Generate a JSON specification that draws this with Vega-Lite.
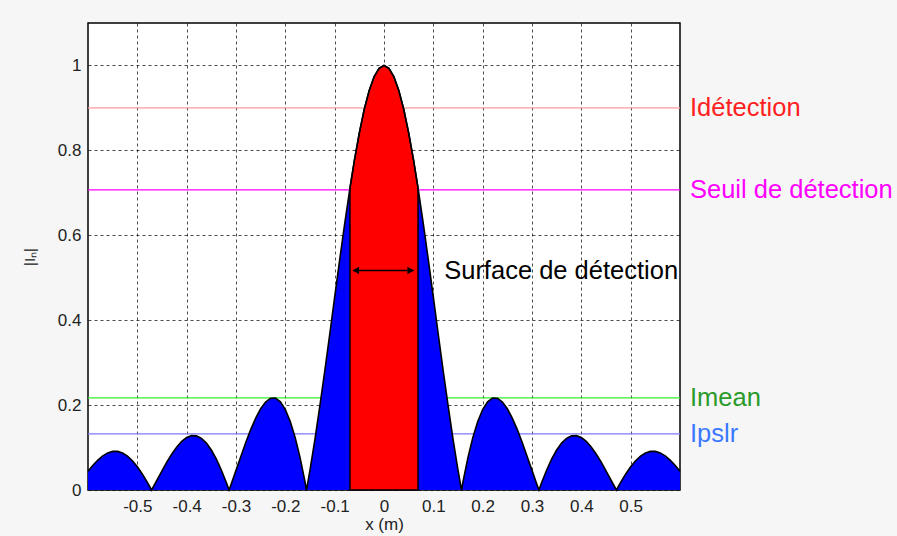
{
  "$schema": "https://vega.github.io/schema/vega-lite/v6.json",
  "width": 592,
  "height": 467,
  "autosize": {"type": "none"},
  "padding": {"left": 88, "top": 23, "right": 217, "bottom": 46},
  "background": "#f6f6f6",
  "config": {
    "view": {"fill": "white", "stroke": "black", "strokeWidth": 1.5},
    "font": "Liberation Sans",
    "axis": {
      "domain": false,
      "ticks": false,
      "grid": true,
      "gridColor": "#000000",
      "gridDash": [3, 3],
      "gridOpacity": 0.7,
      "gridWidth": 1,
      "labelFont": "Liberation Sans",
      "labelFontSize": 17,
      "labelColor": "#222222",
      "titleFont": "Liberation Sans",
      "titleFontWeight": "normal",
      "titleColor": "#222222"
    }
  },
  "datasets": {
    "curve": [
      {"x": -0.6, "y": 0.0443}, {"x": -0.59, "y": 0.0584}, {"x": -0.58, "y": 0.0706}, {"x": -0.57, "y": 0.0804}, {"x": -0.56, "y": 0.0873},
      {"x": -0.55, "y": 0.0909}, {"x": -0.54, "y": 0.0909}, {"x": -0.53, "y": 0.0872}, {"x": -0.52, "y": 0.0798}, {"x": -0.51, "y": 0.0689},
      {"x": -0.5, "y": 0.0548}, {"x": -0.49, "y": 0.0378}, {"x": -0.48, "y": 0.0186}, {"x": -0.471, "y": 0},
      {"x": -0.46, "y": 0.0237}, {"x": -0.45, "y": 0.0453}, {"x": -0.44, "y": 0.0661}, {"x": -0.43, "y": 0.085}, {"x": -0.42, "y": 0.1014},
      {"x": -0.41, "y": 0.1145}, {"x": -0.4, "y": 0.1235}, {"x": -0.39, "y": 0.128}, {"x": -0.38, "y": 0.1274}, {"x": -0.37, "y": 0.1216},
      {"x": -0.36, "y": 0.1105}, {"x": -0.35, "y": 0.0942}, {"x": -0.34, "y": 0.0731}, {"x": -0.33, "y": 0.0477}, {"x": -0.32, "y": 0.0187},
      {"x": -0.314, "y": 0},
      {"x": -0.31, "y": 0.0129}, {"x": -0.3, "y": 0.0462}, {"x": -0.29, "y": 0.0796}, {"x": -0.28, "y": 0.1124}, {"x": -0.27, "y": 0.1429},
      {"x": -0.26, "y": 0.1695}, {"x": -0.25, "y": 0.1916}, {"x": -0.24, "y": 0.2074}, {"x": -0.23, "y": 0.216}, {"x": -0.22, "y": 0.2163},
      {"x": -0.21, "y": 0.2076}, {"x": -0.2, "y": 0.1894}, {"x": -0.19, "y": 0.1613}, {"x": -0.18, "y": 0.1233}, {"x": -0.17, "y": 0.0756},
      {"x": -0.16, "y": 0.0187}, {"x": -0.157, "y": 0},
      {"x": -0.15, "y": 0.0467}, {"x": -0.14, "y": 0.1194}, {"x": -0.13, "y": 0.1982}, {"x": -0.12, "y": 0.2809}, {"x": -0.11, "y": 0.3669},
      {"x": -0.1, "y": 0.4542}, {"x": -0.09, "y": 0.5407}, {"x": -0.08, "y": 0.6244}, {"x": -0.07, "y": 0.7036}, {"x": -0.069, "y": 0.7113},
      {"x": -0.06, "y": 0.7764}, {"x": -0.05, "y": 0.8413}, {"x": -0.04, "y": 0.8968}, {"x": -0.03, "y": 0.9409}, {"x": -0.02, "y": 0.9735},
      {"x": -0.01, "y": 0.9934}, {"x": 0, "y": 1},
      {"x": 0.01, "y": 0.9934}, {"x": 0.02, "y": 0.9735}, {"x": 0.03, "y": 0.9409}, {"x": 0.04, "y": 0.8968}, {"x": 0.05, "y": 0.8413},
      {"x": 0.06, "y": 0.7764}, {"x": 0.069, "y": 0.7113}, {"x": 0.07, "y": 0.7036}, {"x": 0.08, "y": 0.6244}, {"x": 0.09, "y": 0.5407},
      {"x": 0.1, "y": 0.4542}, {"x": 0.11, "y": 0.3669}, {"x": 0.12, "y": 0.2809}, {"x": 0.13, "y": 0.1982}, {"x": 0.14, "y": 0.1194},
      {"x": 0.15, "y": 0.0467}, {"x": 0.157, "y": 0},
      {"x": 0.16, "y": 0.0187}, {"x": 0.17, "y": 0.0756}, {"x": 0.18, "y": 0.1233}, {"x": 0.19, "y": 0.1613}, {"x": 0.2, "y": 0.1894},
      {"x": 0.21, "y": 0.2076}, {"x": 0.22, "y": 0.2163}, {"x": 0.23, "y": 0.216}, {"x": 0.24, "y": 0.2074}, {"x": 0.25, "y": 0.1916},
      {"x": 0.26, "y": 0.1695}, {"x": 0.27, "y": 0.1429}, {"x": 0.28, "y": 0.1124}, {"x": 0.29, "y": 0.0796}, {"x": 0.3, "y": 0.0462},
      {"x": 0.31, "y": 0.0129}, {"x": 0.314, "y": 0},
      {"x": 0.32, "y": 0.0187}, {"x": 0.33, "y": 0.0477}, {"x": 0.34, "y": 0.0731}, {"x": 0.35, "y": 0.0942}, {"x": 0.36, "y": 0.1105},
      {"x": 0.37, "y": 0.1216}, {"x": 0.38, "y": 0.1274}, {"x": 0.39, "y": 0.128}, {"x": 0.4, "y": 0.1235}, {"x": 0.41, "y": 0.1145},
      {"x": 0.42, "y": 0.1014}, {"x": 0.43, "y": 0.085}, {"x": 0.44, "y": 0.0661}, {"x": 0.45, "y": 0.0453}, {"x": 0.46, "y": 0.0237},
      {"x": 0.471, "y": 0},
      {"x": 0.48, "y": 0.0186}, {"x": 0.49, "y": 0.0378}, {"x": 0.5, "y": 0.0548}, {"x": 0.51, "y": 0.0689}, {"x": 0.52, "y": 0.0798},
      {"x": 0.53, "y": 0.0872}, {"x": 0.54, "y": 0.0909}, {"x": 0.55, "y": 0.0909}, {"x": 0.56, "y": 0.0873}, {"x": 0.57, "y": 0.0804},
      {"x": 0.58, "y": 0.0706}, {"x": 0.59, "y": 0.0584}, {"x": 0.6, "y": 0.0443}
    ],
    "levels": [
      {"name": "Idétection", "y": 0.9},
      {"name": "Seuil de détection", "y": 0.707},
      {"name": "Imean", "y": 0.217},
      {"name": "Ipslr", "y": 0.132}
    ],
    "arrow": [
      {"x": -0.063, "y": 0.517},
      {"x": 0.06, "y": 0.517}
    ],
    "heads": [
      {"x": -0.057, "y": 0.517, "dir": "left"},
      {"x": 0.054, "y": 0.517, "dir": "right"}
    ],
    "note": [
      {"x": 0.122, "y": 0.517, "label": "Surface de détection"}
    ]
  },
  "layer": [
    {
      "data": {"name": "levels"},
      "mark": {"type": "rule", "strokeWidth": 1.3},
      "encoding": {
        "y": {
          "field": "y", "type": "quantitative",
          "scale": {"domain": [0, 1.1], "nice": false, "zero": true},
          "axis": {
            "values": [0, 0.2, 0.4, 0.6, 0.8, 1],
            "format": "~g",
            "labelPadding": 7,
            "title": "|Iₙ|",
            "titleFontSize": 15,
            "titlePadding": 20
          }
        },
        "color": {
          "field": "name", "type": "nominal",
          "scale": {"domain": ["Idétection", "Seuil de détection", "Imean", "Ipslr"], "range": ["#ff9a9a", "#ff00ff", "#33ee33", "#7a7aff"]},
          "legend": null
        }
      }
    },
    {
      "data": {"name": "curve"},
      "mark": {"type": "area", "color": "#0000ff"},
      "encoding": {
        "x": {
          "field": "x", "type": "quantitative",
          "scale": {"domain": [-0.6, 0.6], "nice": false, "zero": false},
          "axis": {
            "values": [-0.5, -0.4, -0.3, -0.2, -0.1, 0, 0.1, 0.2, 0.3, 0.4, 0.5],
            "labelExpr": "datum.value == 0 ? '0' : (datum.value < 0 ? '-' + format(-datum.value, '.1f') : format(datum.value, '.1f'))",
            "labelPadding": 8,
            "title": "x (m)",
            "titleFontSize": 17,
            "titlePadding": 2
          }
        },
        "y": {"field": "y", "type": "quantitative"}
      }
    },
    {
      "data": {"name": "curve"},
      "transform": [{"filter": "abs(datum.x) <= 0.0695"}],
      "mark": {"type": "area", "fill": "#ff0000", "stroke": "#000000", "strokeWidth": 1.5},
      "encoding": {
        "x": {"field": "x", "type": "quantitative"},
        "y": {"field": "y", "type": "quantitative"}
      }
    },
    {
      "data": {"name": "curve"},
      "mark": {"type": "line", "color": "#000000", "strokeWidth": 1.6},
      "encoding": {
        "x": {"field": "x", "type": "quantitative"},
        "y": {"field": "y", "type": "quantitative"}
      }
    },
    {
      "data": {"name": "levels"},
      "mark": {"type": "text", "align": "left", "baseline": "middle", "dx": 10, "fontSize": 25.5, "font": "Liberation Sans"},
      "encoding": {
        "x": {"datum": 0.6},
        "y": {"field": "y", "type": "quantitative"},
        "text": {"field": "name"},
        "color": {
          "field": "name", "type": "nominal",
          "scale": {"domain": ["Idétection", "Seuil de détection", "Imean", "Ipslr"], "range": ["#ff2020", "#ff00ff", "#2a9a2a", "#3a78ff"]},
          "legend": null
        }
      }
    },
    {
      "data": {"name": "arrow"},
      "mark": {"type": "line", "color": "#000000", "strokeWidth": 1.5},
      "encoding": {
        "x": {"field": "x", "type": "quantitative"},
        "y": {"field": "y", "type": "quantitative"}
      }
    },
    {
      "data": {"name": "heads"},
      "mark": {"type": "point", "filled": true, "color": "#000000", "size": 55, "opacity": 1},
      "encoding": {
        "x": {"field": "x", "type": "quantitative"},
        "y": {"field": "y", "type": "quantitative"},
        "shape": {"field": "dir", "type": "nominal", "scale": {"domain": ["left", "right"], "range": ["triangle-left", "triangle-right"]}, "legend": null}
      }
    },
    {
      "data": {"name": "note"},
      "mark": {"type": "text", "align": "left", "baseline": "middle", "fontSize": 25.5, "font": "Liberation Sans", "color": "#000000"},
      "encoding": {
        "x": {"field": "x", "type": "quantitative"},
        "y": {"field": "y", "type": "quantitative"},
        "text": {"field": "label"}
      }
    }
  ],
  "resolve": {"scale": {"color": "independent"}}
}
